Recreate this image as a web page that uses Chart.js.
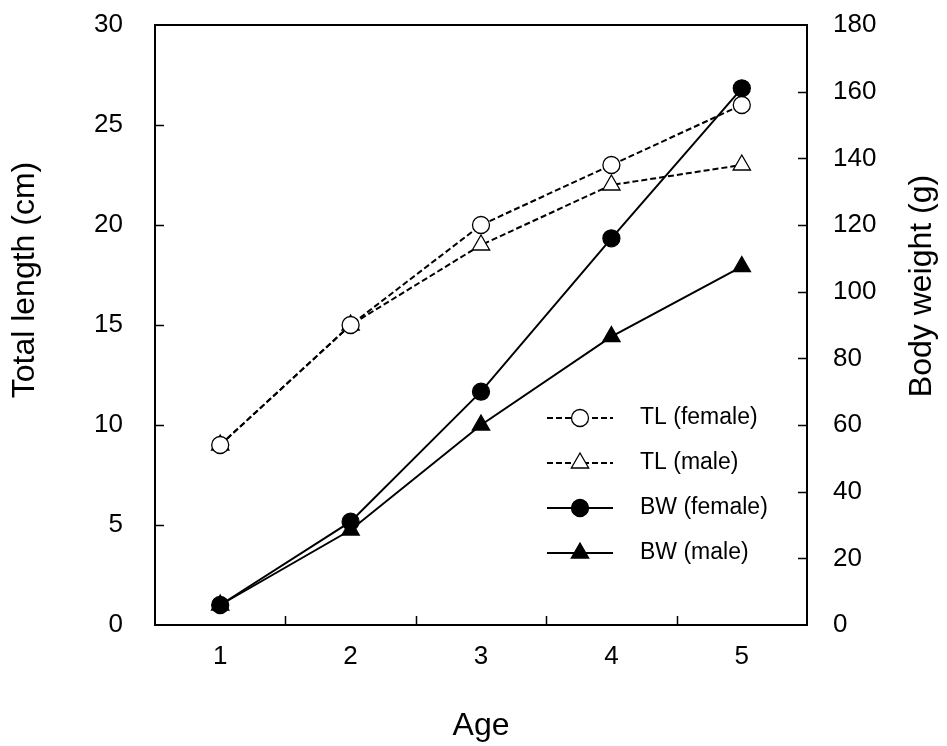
<!DOCTYPE html>
<html>
<head>
<meta charset="utf-8">
<title>Total length and body weight by age</title>
<script src="https://cdn.jsdelivr.net/npm/chart.js@4.4.1/dist/chart.umd.min.js"></script>
<style>
  html, body { margin: 0; padding: 0; background: #fff; }
  #wrap { width: 947px; height: 746px; }
</style>
</head>
<body>
<div id="wrap"><canvas id="growth"></canvas></div>
<script>
// age classes and measurements per sex
const ages = ['1', '2', '3', '4', '5'];
const tlFemale = [9, 15, 20, 23, 26];
const tlMale = [9, 15, 19, 22, 23];
const bwFemale = [6, 31, 70, 116, 161];
const bwMale = [6, 28.5, 60, 86.5, 107.5];

// axis tick values
const lengthTicks = [0, 5, 10, 15, 20, 25, 30];
const weightTicks = [0, 20, 40, 60, 80, 100, 120, 140, 160, 180];

const FONT = '"Liberation Sans", Arial, sans-serif';
Chart.defaults.font.family = FONT;
Chart.defaults.color = '#000';

// closed box around the plot plus short inward tick marks
const frameTicks = {
  id: 'frameTicks',
  afterDatasetsDraw(chart) {
    const { ctx, chartArea: a, scales } = chart;
    ctx.save();
    ctx.strokeStyle = '#000';
    ctx.lineWidth = 2;
    ctx.beginPath();
    ctx.moveTo(a.left - 1, a.top);
    ctx.lineTo(a.right + 1, a.top);
    ctx.stroke();

    ctx.lineWidth = 1.5;
    ctx.beginPath();
    scales.y.ticks.forEach(t => {
      if (t.value === lengthTicks[0] || t.value === lengthTicks[lengthTicks.length - 1]) return;
      const y = Math.round(scales.y.getPixelForValue(t.value)) + 0.5;
      ctx.moveTo(a.left, y);
      ctx.lineTo(a.left + 9, y);
    });
    scales.y1.ticks.forEach(t => {
      if (t.value === weightTicks[0] || t.value === weightTicks[weightTicks.length - 1]) return;
      const y = Math.round(scales.y1.getPixelForValue(t.value)) + 0.5;
      ctx.moveTo(a.right, y);
      ctx.lineTo(a.right - 9, y);
    });
    for (let i = 1; i < ages.length; i++) {
      const x = Math.round((scales.x.getPixelForTick(i - 1) + scales.x.getPixelForTick(i)) / 2) + 0.5;
      ctx.moveTo(x, a.bottom);
      ctx.lineTo(x, a.bottom - 9);
    }
    ctx.stroke();
    ctx.restore();
  }
};

// both vertical titles read bottom-to-top, sitting a bit above the middle
const sideTitles = {
  id: 'sideTitles',
  afterDraw(chart, args, opts) {
    const { ctx } = chart;
    ctx.save();
    ctx.fillStyle = '#000';
    ctx.font = opts.fontSize + 'px ' + FONT;
    ctx.textAlign = 'center';
    ctx.textBaseline = 'middle';
    opts.items.forEach(it => {
      ctx.save();
      ctx.translate(it.x, it.y);
      ctx.rotate(-Math.PI / 2);
      ctx.fillText(it.text, 0, 0);
      ctx.restore();
    });
    ctx.restore();
  }
};

function drawMarker(ctx, style, x, y, r) {
  ctx.beginPath();
  if (style === 'triangle') {
    ctx.moveTo(x, y - r);
    ctx.lineTo(x + r * 0.866, y + r * 0.5);
    ctx.lineTo(x - r * 0.866, y + r * 0.5);
    ctx.closePath();
  } else {
    ctx.arc(x, y, r, 0, Math.PI * 2);
  }
  ctx.fill();
  ctx.stroke();
}

// legend inside the plot: line sample with the marker in its middle
const insideLegend = {
  id: 'insideLegend',
  afterDraw(chart, args, opts) {
    const { ctx, chartArea: a } = chart;
    const x0 = a.right - opts.offsetRight;
    let y = a.top + opts.offsetTop;
    ctx.save();
    chart.data.datasets.forEach(ds => {
      ctx.strokeStyle = ds.borderColor;
      ctx.lineWidth = ds.borderWidth;
      ctx.setLineDash(ds.borderDash || []);
      ctx.beginPath();
      ctx.moveTo(x0, y);
      ctx.lineTo(x0 + opts.sampleWidth, y);
      ctx.stroke();
      ctx.setLineDash([]);
      ctx.fillStyle = ds.pointBackgroundColor;
      ctx.strokeStyle = ds.pointBorderColor;
      ctx.lineWidth = ds.pointBorderWidth;
      drawMarker(ctx, ds.pointStyle, x0 + opts.sampleWidth / 2, y, ds.pointRadius);
      ctx.fillStyle = '#000';
      ctx.font = opts.fontSize + 'px ' + FONT;
      ctx.textBaseline = 'middle';
      ctx.textAlign = 'left';
      ctx.fillText(ds.label, x0 + opts.sampleWidth + 27, y);
      y += opts.rowGap;
    });
    ctx.restore();
  }
};

const series = (label, data, axis, style, filled, dashed) => ({
  label: label,
  data: data,
  yAxisID: axis,
  borderColor: '#000',
  borderWidth: 2,
  borderDash: dashed ? [6, 3] : [],
  pointStyle: style,
  pointRadius: style === 'triangle' ? 10 : 8.5,
  pointHoverRadius: style === 'triangle' ? 10 : 8.5,
  pointBackgroundColor: filled ? '#000' : '#fff',
  pointBorderColor: '#000',
  pointBorderWidth: 1.3,
  tension: 0,
  fill: false
});

// fixed axis widths; drop the extra top/bottom room Chart.js reserves for the end labels
const fixWidth = w => s => {
  s.width = w;
  s.paddingTop = 0;
  s.paddingBottom = 0;
};

new Chart(document.getElementById('growth').getContext('2d'), {
  type: 'line',
  data: {
    labels: ages,
    datasets: [
      series('TL (female)', tlFemale, 'y', 'circle', false, true),
      series('TL (male)', tlMale, 'y', 'triangle', false, true),
      series('BW (female)', bwFemale, 'y1', 'circle', true, false),
      series('BW (male)', bwMale, 'y1', 'triangle', true, false)
    ]
  },
  options: {
    responsive: true,
    maintainAspectRatio: false,
    animation: false,
    layout: { padding: { top: 25, left: 0, right: 0, bottom: 0 } },
    plugins: {
      legend: { display: false },
      tooltip: { enabled: false },
      insideLegend: { offsetRight: 260, offsetTop: 393, sampleWidth: 66, rowGap: 45, fontSize: 23 },
      sideTitles: {
        fontSize: 32,
        items: [
          { text: 'Total length (cm)', x: 25, y: 280 },
          { text: 'Body weight (g)', x: 922, y: 286 }
        ]
      }
    },
    scales: {
      x: {
        type: 'category',
        offset: true,
        grid: { display: false, drawTicks: false, offset: true },
        border: { display: true, color: '#000', width: 2 },
        ticks: { padding: 16, font: { size: 26 } },
        title: { display: true, text: 'Age', font: { size: 32 }, padding: { top: 0, bottom: 1 } },
        afterFit: s => { s.height = 121; s.paddingLeft = 0; s.paddingRight = 0; }
      },
      y: {
        position: 'left',
        min: lengthTicks[0],
        max: lengthTicks[lengthTicks.length - 1],
        grid: { display: false, drawTicks: false },
        border: { display: true, color: '#000', width: 2 },
        ticks: { stepSize: lengthTicks[1] - lengthTicks[0], padding: 32, font: { size: 26 } },
        afterFit: fixWidth(155)
      },
      y1: {
        position: 'right',
        min: weightTicks[0],
        max: weightTicks[weightTicks.length - 1],
        grid: { display: false, drawTicks: false },
        border: { display: true, color: '#000', width: 2 },
        ticks: { stepSize: weightTicks[1] - weightTicks[0], padding: 26, font: { size: 26 } },
        afterFit: fixWidth(140)
      }
    }
  },
  plugins: [frameTicks, sideTitles, insideLegend]
});
</script>
</body>
</html>
